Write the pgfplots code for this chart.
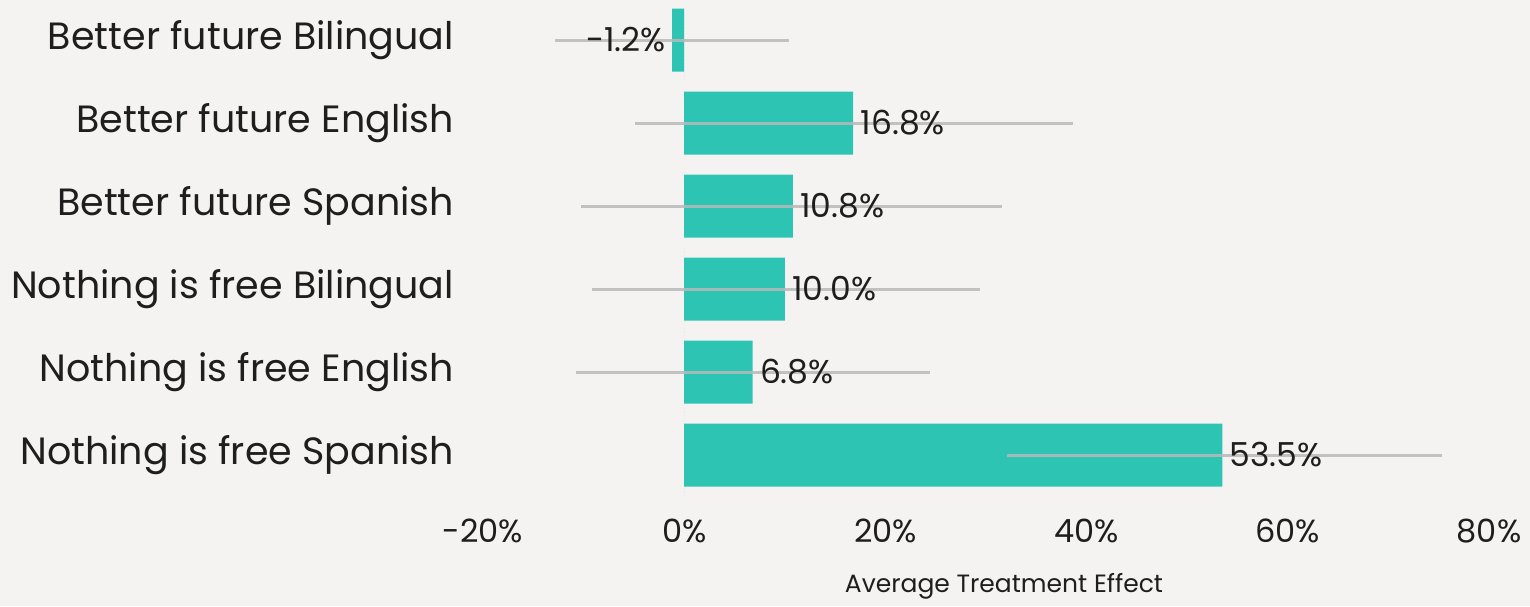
\documentclass[border=0pt]{standalone}
\usepackage{pgfplots}
\pgfplotsset{compat=1.18}
\usepackage{pgfplotstable}
\usepackage{fontspec}
\setmainfont{Poppins}
\definecolor{bg}{RGB}{244,243,241}
\definecolor{barteal}{RGB}{46,196,180}
\definecolor{errgray}{RGB}{185,185,185}
\definecolor{txt}{RGB}{30,30,30}

\pgfplotstableread{
y x ep em
0 -1.2 11.6 11.6
1 16.8 21.8 21.7
2 10.8 20.8 21.1
3 10.0 19.4 19.2
4 6.8 17.6 17.6
5 53.5 21.8 21.4
}\data

\pgfplotstableread{
y x lab
1 16.8 16.8\%
2 10.8 10.8\%
3 10.0 10.0\%
4 6.8 6.8\%
5 53.5 53.5\%
}\poslabels

\pgfplotstableread{
y x lab
0 -1.2 -1.2\%
}\neglabels

\begin{document}
\begin{tikzpicture}
\path[use as bounding box, fill=bg] (0,0) rectangle (765pt,303pt);
\begin{axis}[
  at={(241.5pt,54.75pt)}, anchor=south west,
  scale only axis, width=503pt, height=249pt,
  xmin=-20, xmax=80, ymin=-0.5, ymax=5.5,
  y dir=reverse,
  axis line style={draw=none},
  tick style={draw=none},
  xtick={-20,0,20,40,60,80},
  xticklabels={\mbox{-20\%}, \mbox{0\%}, \mbox{20\%}, \mbox{40\%}, \mbox{60\%}, \mbox{80\%}},
  ytick={0,1,2,3,4,5},
  yticklabels={Better future Bilingual, Better future English, Better future Spanish, Nothing is free Bilingual, Nothing is free English, Nothing is free Spanish},
  xticklabel style={font=\fontsize{16}{18}\selectfont, text=txt, yshift=-7.5pt},
  yticklabel style={font=\fontsize{19}{22}\selectfont, text=txt, xshift=-11pt},
  xlabel={Average Treatment Effect},
  xlabel style={font=\fontsize{12.5}{15}\selectfont, text=txt, xshift=9pt, yshift=-8.5pt},
  clip=false,
]
\addplot[densely dotted, color=white!85!gray, line width=0.6pt] coordinates {(0,-0.5) (0,5.5)};
\addplot[xbar, bar width=31.5pt, fill=barteal, draw=none] table[x=x, y=y] {\data};
\addplot[draw=none, mark=none,
  error bars/.cd, x dir=both, x explicit, error mark=none,
  error bar style={line width=1.5pt, color=errgray, opacity=0.85}]
  table[x=x, y=y, x error plus=ep, x error minus=em] {\data};
\addplot[draw=none, mark=none, nodes near coords, point meta=explicit symbolic,
  nodes near coords style={anchor=west, inner sep=3.5pt, font=\fontsize{16.5}{18}\selectfont, text=txt}]
  table[x=x, y=y, meta=lab] {\poslabels};
\addplot[draw=none, mark=none, nodes near coords, point meta=explicit symbolic,
  nodes near coords style={anchor=east, inner sep=3pt, font=\fontsize{16.5}{18}\selectfont, text=txt}]
  table[x=x, y=y, meta=lab] {\neglabels};
\end{axis}
\end{tikzpicture}
\end{document}
